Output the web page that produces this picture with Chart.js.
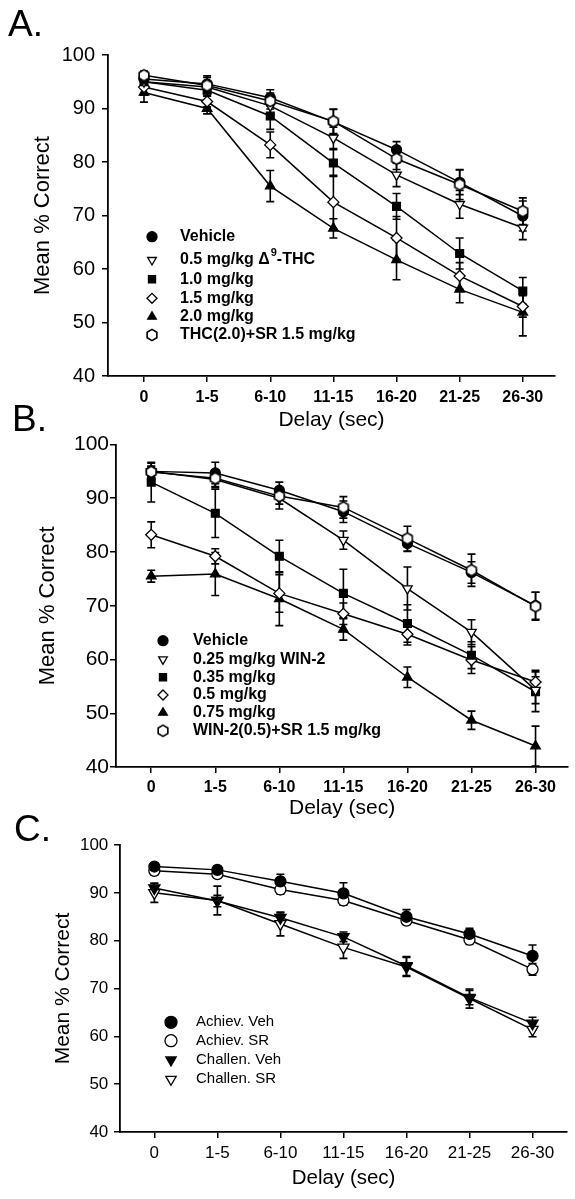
<!DOCTYPE html>
<html>
<head>
<meta charset="utf-8">
<script src="https://cdn.jsdelivr.net/npm/chart.js@4.4.0/dist/chart.umd.min.js"></script>
<style>
  body { margin: 0; background: #fff; }
  #page { position: relative; width: 575px; height: 1199px; overflow: hidden; font-family: "Liberation Sans", Arial, sans-serif; }
  canvas { position: absolute; left: 0; }
  .letter { position: absolute; font-size: 37px; line-height: 1; color: #000; }
</style>
</head>
<body>
<div id="page">
  <canvas id="chartA" width="575" height="440" style="top:0px"></canvas>
  <canvas id="chartB" width="575" height="421" style="top:400px"></canvas>
  <canvas id="chartC" width="575" height="394" style="top:805px"></canvas>
  <div class="letter" style="left:8px;top:5px">A.</div>
  <div class="letter" style="left:12px;top:400px">B.</div>
  <div class="letter" style="left:14px;top:810px">C.</div>
</div>
<script>
// categories / ticks
const delays = ['0', '1-5', '6-10', '11-15', '16-20', '21-25', '26-30'];
const yTicks = [40, 50, 60, 70, 80, 90, 100];

// panel A - THC
const aVehicle = [95.5, 94.6, 92.0, 87.5, 82.3, 76.2, 69.9];
const aVehicleErr = [1.0, 1.5, 1.5, 2.3, 1.5, 2.3, 2.8];
const aThc05 = [95.0, 94.0, 90.5, 84.5, 77.6, 72.1, 67.7];
const aThc05Err = [1.0, 1.0, 1.5, 2.0, 2.2, 2.6, 2.2];
const aThc10 = [95.0, 93.4, 88.6, 79.8, 71.7, 62.9, 55.9];
const aThc10Err = [1.0, 1.0, 2.5, 2.5, 2.4, 2.9, 2.5];
const aThc15 = [94.0, 91.3, 83.2, 72.5, 65.8, 58.7, 53.0];
const aThc15Err = [1.5, 1.0, 2.4, 5.0, 4.0, 2.5, 2.0];
const aThc20 = [93.0, 90.0, 75.5, 67.6, 61.7, 56.2, 51.9];
const aThc20Err = [1.8, 1.0, 2.9, 1.8, 3.7, 2.5, 4.4];
const aThcSr = [96.2, 94.3, 91.4, 87.6, 80.6, 75.8, 70.8];
const aThcSrErr = [0.8, 1.5, 1.5, 2.3, 2.0, 2.8, 2.5];

// panel B - WIN-2
const bVehicle = [95.0, 94.7, 91.5, 87.5, 81.6, 76.2, 70.0];
const bVehicleErr = [1.5, 2.0, 1.5, 2.0, 1.5, 2.0, 2.5];
const bWin025 = [95.0, 93.5, 90.0, 82.2, 73.2, 65.1, 54.3];
const bWin025Err = [1.0, 1.5, 2.0, 1.7, 4.0, 2.3, 2.5];
const bWin035 = [93.0, 87.2, 79.2, 72.3, 66.7, 60.8, 54.0];
const bWin035Err = [3.7, 4.5, 3.0, 4.5, 3.5, 2.5, 3.7];
const bWin05 = [83.2, 79.2, 72.3, 68.5, 64.7, 59.9, 55.8];
const bWin05Err = [2.4, 1.4, 3.5, 2.0, 2.0, 2.5, 2.2];
const bWin075 = [75.5, 75.9, 71.3, 65.6, 56.7, 48.7, 43.9];
const bWin075Err = [1.1, 4.0, 5.0, 2.0, 1.9, 1.7, 3.7];
const bWinSr = [94.9, 93.7, 90.4, 88.3, 82.5, 76.6, 69.9];
const bWinSrErr = [1.0, 1.5, 1.5, 2.0, 2.3, 3.0, 2.6];

// panel C - achievement vs challenge
const cAchVeh = [95.5, 94.8, 92.4, 89.9, 85.0, 81.4, 76.8];
const cAchVehErr = [0.8, 0.8, 1.5, 2.2, 1.5, 1.2, 2.3];
const cAchSr = [94.6, 93.9, 90.7, 88.4, 84.2, 80.2, 74.0];
const cAchSrErr = [0.8, 0.8, 1.0, 1.0, 0.8, 1.0, 1.2];
const cChaVeh = [91.0, 88.3, 84.8, 80.8, 74.7, 68.1, 62.7];
const cChaVehErr = [1.0, 1.2, 1.0, 1.0, 2.0, 1.5, 1.3];
const cChaSr = [90.0, 88.4, 83.5, 78.6, 74.5, 67.9, 61.4];
const cChaSrErr = [2.0, 3.0, 2.5, 2.3, 2.0, 2.0, 1.5];

Chart.defaults.font.family = '"Liberation Sans", Arial, sans-serif';
Chart.defaults.color = '#000';

// open hexagon marker (no built-in style for it)
function hexMarker(r) {
  const c = document.createElement('canvas');
  const s = 2 * Math.ceil(r + 2);
  c.width = s; c.height = s;
  const g = c.getContext('2d');
  g.beginPath();
  for (let k = 0; k < 6; k++) {
    const a = -Math.PI / 2 + k * Math.PI / 3;
    const px = s / 2 + r * Math.cos(a), py = s / 2 + r * Math.sin(a);
    if (k === 0) g.moveTo(px, py); else g.lineTo(px, py);
  }
  g.closePath();
  g.fillStyle = '#fff';
  g.fill();
  g.lineWidth = 1.6;
  g.strokeStyle = '#000';
  g.stroke();
  return c;
}

const filled = { pointBackgroundColor: '#000' };
const open = { pointBackgroundColor: '#fff' };

function series(label, values, errors, style) {
  return Object.assign({
    label: label,
    errors: errors,
    data: values.map((v, i) => ({ x: i, y: v })),
    borderColor: '#000',
    borderWidth: 1.5,
    tension: 0,
    fill: false,
    pointBorderColor: '#000',
    pointBorderWidth: 1.3,
    pointRadius: 5,
    clip: false
  }, style);
}

// error bars drawn under the markers
const errorBars = {
  id: 'errorBars',
  beforeDatasetsDraw(chart) {
    const ctx = chart.ctx;
    const xs = chart.scales.x, ys = chart.scales.y;
    ctx.save();
    ctx.strokeStyle = '#000';
    ctx.lineWidth = 1.6;
    chart.data.datasets.forEach(ds => {
      ds.data.forEach((pt, i) => {
        const e = ds.errors[i];
        const px = xs.getPixelForValue(pt.x);
        const top = ys.getPixelForValue(pt.y + e);
        const bot = ys.getPixelForValue(pt.y - e);
        ctx.beginPath();
        ctx.moveTo(px, top); ctx.lineTo(px, bot);
        ctx.moveTo(px - 4, top); ctx.lineTo(px + 4, top);
        ctx.moveTo(px - 4, bot); ctx.lineTo(px + 4, bot);
        ctx.stroke();
      });
    });
    ctx.restore();
  }
};

// legend inside the plot area, one row per dataset
const insideLegend = {
  id: 'insideLegend',
  afterDatasetsDraw(chart, args, opts) {
    const ctx = chart.ctx;
    ctx.save();
    ctx.textBaseline = 'middle';
    chart.data.datasets.forEach((ds, i) => {
      const y = opts.rows[i];
      ctx.fillStyle = ds.pointBackgroundColor;
      ctx.strokeStyle = '#000';
      ctx.lineWidth = ds.pointBorderWidth;
      Chart.helpers.drawPoint(ctx, {
        pointStyle: ds.pointStyle,
        radius: opts.radius,
        rotation: ds.pointRotation || 0,
        borderWidth: ds.pointBorderWidth
      }, opts.markerX, y);
      ctx.fillStyle = '#000';
      ctx.font = opts.font;
      const parts = ds.label.split('^');
      let x = opts.textX;
      ctx.fillText(parts[0], x, y);
      if (parts.length > 1) {
        x += ctx.measureText(parts[0]).width;
        const sup = parts[1].charAt(0), rest = parts[1].slice(1);
        ctx.font = opts.supFont;
        ctx.fillText(sup, x + 1, y - 7);
        x += ctx.measureText(sup).width + 1;
        ctx.font = opts.font;
        ctx.fillText(rest, x, y);
      }
    });
    ctx.restore();
  }
};

function makeChart(id, datasets, p) {
  return new Chart(document.getElementById(id), {
    type: 'line',
    data: { datasets: datasets },
    plugins: [errorBars, insideLegend],
    options: {
      responsive: false,
      animation: false,
      events: [],
      devicePixelRatio: 1,
      layout: { padding: { top: p.padTop, right: p.padRight, bottom: 0, left: 0 } },
      plugins: {
        legend: { display: false },
        tooltip: { enabled: false },
        insideLegend: p.legend
      },
      scales: {
        x: {
          type: 'linear',
          min: p.xMin,
          max: p.xMax,
          afterBuildTicks: s => { s.ticks = delays.map((d, i) => ({ value: i })); },
          afterFit: s => { s.height = p.xHeight; },
          grid: { drawOnChartArea: false, drawTicks: true, tickLength: 6, color: '#000', lineWidth: 1.5 },
          border: { display: true, color: '#000', width: 1.8 },
          ticks: { callback: v => delays[v], color: '#000', font: p.xTickFont, padding: p.xTickPad, maxRotation: 0, autoSkip: false },
          title: { display: true, text: 'Delay (sec)', color: '#000', font: { size: p.xTitleSize }, padding: { top: 0, bottom: p.xTitlePad } }
        },
        y: {
          min: 40,
          max: 100,
          afterBuildTicks: s => { s.ticks = yTicks.map(v => ({ value: v })); },
          afterFit: s => { s.width = p.yWidth; },
          grid: { drawOnChartArea: false, drawTicks: true, tickLength: 6, color: '#000', lineWidth: 1.5 },
          border: { display: true, color: '#000', width: 1.8 },
          ticks: { color: '#000', font: { size: p.yTickSize }, padding: p.yTickPad },
          title: { display: true, text: 'Mean % Correct', color: '#000', font: { size: p.yTitleSize }, padding: { top: p.yTitlePad, bottom: 0 } }
        }
      }
    }
  });
}

const hexA = hexMarker(5.6);

makeChart('chartA', [
  series('Vehicle', aVehicle, aVehicleErr, Object.assign({ pointStyle: 'circle' }, filled)),
  series('0.5 mg/kg \u0394^9-THC', aThc05, aThc05Err, Object.assign({ pointStyle: 'triangle', pointRotation: 180, pointRadius: 5.5 }, open)),
  series('1.0 mg/kg', aThc10, aThc10Err, Object.assign({ pointStyle: 'rect', pointRadius: 5.5 }, filled)),
  series('1.5 mg/kg', aThc15, aThc15Err, Object.assign({ pointStyle: 'rectRot', pointRadius: 5.5 }, open)),
  series('2.0 mg/kg', aThc20, aThc20Err, Object.assign({ pointStyle: 'triangle', pointRadius: 5.5 }, filled)),
  series('THC(2.0)+SR 1.5 mg/kg', aThcSr, aThcSrErr, Object.assign({ pointStyle: hexA, order: -1 }, open))
], {
  padTop: 55, padRight: 20, yWidth: 108, xHeight: 64, xMin: -0.57, xMax: 6.51,
  xTickFont: { size: 16, weight: 'bold' }, xTickPad: 6.4, xTitleSize: 21, xTitlePad: 7.4,
  yTickSize: 20, yTickPad: 7, yTitleSize: 22, yTitlePad: 29.8,
  legend: { markerX: 152, textX: 180, radius: 5, font: 'bold 16px "Liberation Sans", Arial, sans-serif',
    supFont: 'bold 11px "Liberation Sans", Arial, sans-serif', rows: [236.7, 260, 279.3, 298.3, 316.7, 335] }
});

const hexB = hexMarker(5.6);

makeChart('chartB', [
  series('Vehicle', bVehicle, bVehicleErr, Object.assign({ pointStyle: 'circle' }, filled)),
  series('0.25 mg/kg WIN-2', bWin025, bWin025Err, Object.assign({ pointStyle: 'triangle', pointRotation: 180, pointRadius: 5.5 }, open)),
  series('0.35 mg/kg', bWin035, bWin035Err, Object.assign({ pointStyle: 'rect', pointRadius: 5.5 }, filled)),
  series('0.5 mg/kg', bWin05, bWin05Err, Object.assign({ pointStyle: 'rectRot', pointRadius: 5.5 }, open)),
  series('0.75 mg/kg', bWin075, bWin075Err, Object.assign({ pointStyle: 'triangle', pointRadius: 5.5 }, filled)),
  series('WIN-2(0.5)+SR 1.5 mg/kg', bWinSr, bWinSrErr, Object.assign({ pointStyle: hexB, order: -1 }, open))
], {
  padTop: 44.5, padRight: 5, yWidth: 116, xHeight: 54, xMin: -0.55, xMax: 6.51,
  xTickFont: { size: 16, weight: 'bold' }, xTickPad: 4.7, xTitleSize: 21, xTitlePad: 0.4,
  yTickSize: 21, yTickPad: 1, yTitleSize: 22, yTitlePad: 34.8,
  legend: { markerX: 163, textX: 193, radius: 5, font: 'bold 16px "Liberation Sans", Arial, sans-serif',
    supFont: 'bold 11px "Liberation Sans", Arial, sans-serif', rows: [240.7, 259.3, 277.3, 295, 312.7, 330.7] }
});

makeChart('chartC', [
  series('Achiev. Veh', cAchVeh, cAchVehErr, Object.assign({ pointStyle: 'circle', pointRadius: 5.5 }, filled)),
  series('Achiev. SR', cAchSr, cAchSrErr, Object.assign({ pointStyle: 'circle', pointRadius: 5.5 }, open)),
  series('Challen. Veh', cChaVeh, cChaVehErr, Object.assign({ pointStyle: 'triangle', pointRotation: 180, pointRadius: 6.5 }, filled)),
  series('Challen. SR', cChaSr, cChaSrErr, Object.assign({ pointStyle: 'triangle', pointRotation: 180, pointRadius: 6.5 }, open))
], {
  padTop: 40, padRight: 0, yWidth: 120, xHeight: 67, xMin: -0.545, xMax: 6.55,
  xTickFont: { size: 17 }, xTickPad: 4.8, xTitleSize: 20.5, xTitlePad: 8.7,
  yTickSize: 17, yTickPad: 5.7, yTitleSize: 21, yTitlePad: 50.4,
  legend: { markerX: 171, textX: 196, radius: 6, font: '15px "Liberation Sans", Arial, sans-serif',
    supFont: '10px "Liberation Sans", Arial, sans-serif', rows: [217.3, 235.7, 255, 274.3] }
});
</script>
</body>
</html>
